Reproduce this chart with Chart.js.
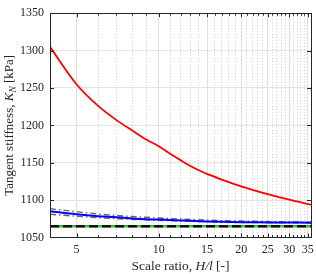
<!DOCTYPE html>
<html><head><meta charset="utf-8">
<script src="https://cdn.jsdelivr.net/npm/chart.js@4/dist/chart.umd.min.js"></script>
<style>html,body{margin:0;padding:0;background:#fff}#w{width:316px;height:274px}</style>
</head><body><div id="w"><canvas id="c" width="316" height="274"></canvas></div>
<script>
const ratios = [4,5,6,7,8,9,10,11,12,13,14,15,17,20,25,30,36];
const redVals = [1305,1255,1226,1207,1193,1181,1172,1162,1153.5,1146,1140,1135,1127.5,1118.5,1108,1100.5,1094];
const blueVals = [1085,1081,1078.5,1077,1075.5,1074.5,1074,1073.3,1072.8,1072.3,1071.9,1071.5,1071,1070.5,1070.2,1070,1069.8];
const grayUpperVals = [1088.5,1084.5,1081.5,1079.5,1078,1077,1076,1075.3,1074.7,1074.2,1073.8,1073.3,1072.6,1072,1071.3,1070.8,1070.5];
const grayLowerVals = [1081,1078.5,1076.5,1075.2,1074.3,1073.6,1073,1072.5,1072.1,1071.7,1071.4,1071.1,1070.6,1070.2,1069.9,1069.7,1069.5];
const blackVals = [1065,1065,1065,1065,1065,1065,1065,1065,1065,1065,1065,1065,1065,1065,1065,1065,1065];
const greenVals = [1065,1065,1065,1065,1065,1065,1065,1065,1065,1065,1065,1065,1065,1065,1065,1065,1065];
const xTickLabels = [5,10,15,20,25,30,35];
const xMinorTicks = [6,7,8,9,11,12,13,14,16,17,18,19,21,22,23,24,26,27,28,29,31,32,33,34,36];
const yTicks = [1050,1100,1150,1200,1250,1300,1350];

const pts = v => ratios.map((r,i)=>({x:r,y:v[i]}));
const FONT = "'Liberation Serif','DejaVu Serif',serif";
const AX = '#262626';

const boxPlugin = {
  id:'box',
  afterDraw(chart){
    const {ctx, chartArea:a, scales:{x,y}} = chart;
    ctx.save();
    ctx.strokeStyle = AX; ctx.lineWidth = 1;
    ctx.beginPath();
    x.ticks.forEach(t=>{
      const px = Math.round(x.getPixelForValue(t.value))+0.5;
      if (px <= a.left+1 || px >= a.right-1) return;
      const len = xTickLabels.includes(t.value) ? 4 : 2.5;
      ctx.moveTo(px,a.bottom); ctx.lineTo(px,a.bottom-len);
      ctx.moveTo(px,a.top); ctx.lineTo(px,a.top+len);
    });
    y.ticks.forEach(t=>{
      const py = Math.round(y.getPixelForValue(t.value))+0.5;
      if (py <= a.top+1 || py >= a.bottom-1) return;
      ctx.moveTo(a.left,py); ctx.lineTo(a.left+4,py);
      ctx.moveTo(a.right,py); ctx.lineTo(a.right-4,py);
    });
    ctx.stroke();
    ctx.strokeRect(Math.round(a.left)+0.5, Math.round(a.top)+0.5, Math.round(a.right-a.left), Math.round(a.bottom-a.top));
    const drawRich = (segs, cx, cy, rot) => {
      ctx.save();
      ctx.translate(cx, cy); ctx.rotate(rot);
      ctx.fillStyle = AX; ctx.textBaseline = 'middle';
      let w = 0;
      segs.forEach(s=>{ ctx.font = s.f; w += ctx.measureText(s.t).width; });
      let xx = -w/2;
      segs.forEach(s=>{ ctx.font = s.f; ctx.fillText(s.t, xx, s.dy||0); xx += ctx.measureText(s.t).width; });
      ctx.restore();
    };
    const n = '13.5px '+FONT, it = 'italic 13.5px '+FONT;
    drawRich([{t:'Scale ratio, ',f:n},{t:'H/l',f:it},{t:' [-]',f:n}], (a.left+a.right)/2, 266, 0);
    const n2 = '13px '+FONT, it2 = 'italic 13px '+FONT, sub = 'italic 9.5px '+FONT;
    drawRich([{t:'Tangent stiffness, ',f:n2},{t:'K',f:it2},{t:'N',f:sub,dy:3},{t:' [kPa]',f:n2}], 10, (a.top+a.bottom)/2, -Math.PI/2);
    ctx.restore();
  }
};

new Chart(document.getElementById('c'), {
  type:'line',
  data:{ datasets:[
    {data:pts(redVals), borderColor:'#ff0000', borderWidth:1.8, pointRadius:0},
    {data:pts(blueVals), borderColor:'#0000ff', borderWidth:2, pointRadius:0},
    {data:pts(grayUpperVals), borderColor:'#666666', borderWidth:1.4, borderDash:[6,3,1.5,3], pointRadius:0},
    {data:pts(grayLowerVals), borderColor:'#666666', borderWidth:1.4, borderDash:[6,3,1.5,3], pointRadius:0},
    {data:pts(blackVals), borderColor:'#111111', borderWidth:2.5, borderDash:[9,4], pointRadius:0},
    {data:pts(greenVals), borderColor:'#33c133', borderWidth:2.5, pointRadius:0}
  ]},
  options:{
    responsive:false, animation:false, devicePixelRatio:1,
    layout:{padding:{top:5,right:3,left:0,bottom:0}},
    plugins:{legend:{display:false}, tooltip:{enabled:false}},
    elements:{line:{tension:0.3, cubicInterpolationMode:'monotone'}},
    scales:{
      x:{type:'logarithmic', min:4, max:36,
        afterBuildTicks(s){ s.ticks = xTickLabels.concat(xMinorTicks).sort((p,q)=>p-q).map(v=>({value:v})); },
        afterFit(s){ s.height = 36.5; },
        ticks:{autoSkip:false, maxRotation:0, padding:5, color:AX, font:{family:FONT,size:12},
          callback:(v)=> xTickLabels.includes(v) ? String(v) : ''},
        grid:{drawTicks:false, tickLength:0, lineWidth:1,
          color:(c)=> c.tick && xTickLabels.includes(c.tick.value) ? '#dedede' : '#c8c8c8'},
        border:{display:false, dash:(c)=> c.tick && xTickLabels.includes(c.tick.value) ? [] : [1,2]}
      },
      y:{type:'linear', min:1050, max:1350,
        afterBuildTicks(s){ s.ticks = yTicks.map(v=>({value:v})); },
        afterFit(s){ s.width = 50; },
        ticks:{padding:6, color:AX, font:{family:FONT,size:12}, callback:(v)=>String(v)},
        grid:{drawTicks:false, tickLength:0, color:'#e3e3e3', lineWidth:1},
        border:{display:false}
      }
    }
  },
  plugins:[boxPlugin]
});
</script></body></html>
